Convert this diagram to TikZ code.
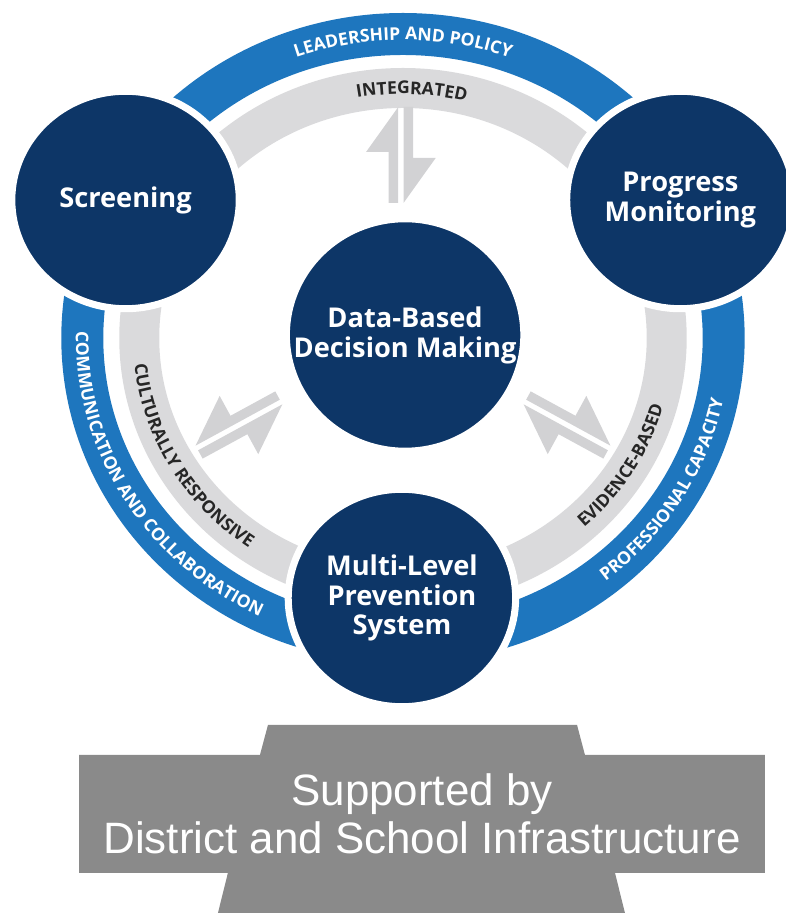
\documentclass[tikz,border=0pt]{standalone}
\usepackage{fontspec}
\usetikzlibrary{shapes.geometric,decorations.text}
\newfontfamily\labelfont{Open Sans}
\newfontfamily\bannerfont{Liberation Sans}
\definecolor{navy}{RGB}{13,54,103}
\definecolor{bandblue}{RGB}{30,118,190}
\definecolor{bandgray}{RGB}{218,218,220}
\definecolor{arrowgray}{RGB}{210,210,212}
\definecolor{bannergray}{RGB}{138,138,138}
\newcommand{\arcwhite}{\labelfont\bfseries\fontsize{10}{10}\selectfont\color{white}}
\newcommand{\arcblack}{\labelfont\bfseries\fontsize{10}{10}\selectfont\color{black!85}}
\tikzset{
  hub/.style={ellipse, fill=navy, draw=white, line width=4pt, inner sep=0pt,
    minimum width=4.55cm, minimum height=4.35cm},
  hubtext/.style={text=white, align=center, inner sep=0pt,
    font=\labelfont\bfseries\fontsize{15.5}{17}\selectfont},
  bigring/.style={draw=bandblue, line width=0.84cm},
  midring/.style={draw=bandgray, line width=0.8cm},
  pics/harpoons/.style={code={
    \fill[arrowgray] (-2.5,48) -- (-33,3) -- (-11.5,3) -- (-11.5,-48) -- (-2.5,-48) -- cycle;
    \fill[arrowgray] (2.5,48) -- (11.5,48) -- (11.5,-3) -- (33,-3) -- (2.5,-48) -- cycle;
  }}
}
\begin{document}
\begin{tikzpicture}[x=0.0211cm, y=0.02cm]
  \useasboundingbox (0,0) rectangle (745,916);
  \coordinate (ring) at (382,578);

  % the two bands
  \draw[bigring] (ring) circle[radius=304];
  \draw[midring] (ring) circle[radius=250];

  % band labels
  \path[decorate, decoration={text along path, text align=center,
      text={|\arcwhite|LEADERSHIP AND POLICY}}]
    (ring) ++(140:298) arc[start angle=140, end angle=40, radius=298];
  \path[decorate, decoration={text along path, text align=center,
      text={|\arcblack|INTEGRATED}}]
    (ring) ++(130:244) arc[start angle=130, end angle=46, radius=244];
  \path[decorate, decoration={text along path, text align=center,
      text={|\arcwhite|COMMUNICATION AND COLLABORATION}}]
    (ring) ++(160:310) arc[start angle=160, end angle=262, radius=310];
  \path[decorate, decoration={text along path, text align=center,
      text={|\arcblack|CULTURALLY RESPONSIVE}}]
    (ring) ++(160:256) arc[start angle=160, end angle=260, radius=256];
  \path[decorate, decoration={text along path, text align=center,
      text={|\arcblack|EVIDENCE-BASED}}]
    (ring) ++(280:256) arc[start angle=280, end angle=378, radius=256];
  \path[decorate, decoration={text along path, text align=center,
      text={|\arcwhite|PROFESSIONAL CAPACITY}}]
    (ring) ++(278:310) arc[start angle=278, end angle=380, radius=310];

  % two-way arrows
  \pic at (380,761) {harpoons};
  \pic[rotate=-118.6] at (537.5,491) {harpoons};
  \pic[rotate=118.6, xscale=-1] at (226.5,491) {harpoons};

  % the four parts
  \node[hub] (screen) at (119,716) {};
  \node[hub] (progress) at (645,716) {};
  \node[hub, minimum width=4.75cm, minimum height=4.65cm] (dbdm) at (384,581) {};
  \node[hub] (mlps) at (381,318) {};
  \node[hubtext] (screentext) at (screen) {Screening};
  \node[hubtext] (progresstext) at (progress) {Progress\\Monitoring};
  \node[hubtext] (dbdmtext) at (dbdm) {Data-Based\\Decision Making};
  \node[hubtext] (mlpstext) at (mlps) {Multi-Level\\Prevention\\System};

  % base
  \fill[bannergray] (254,191) -- (547,191) -- (554.5,161) -- (725,161) -- (725,43)
    -- (583,43) -- (592.4,3) -- (206.6,3) -- (216,43) -- (75,43) -- (75,161)
    -- (246.4,161) -- cycle;
  \node[text=white, align=center, font=\bannerfont\fontsize{25}{27.5}\selectfont] (support)
    at (400,102.5) {Supported by\\District and School Infrastructure};
\end{tikzpicture}
\end{document}
